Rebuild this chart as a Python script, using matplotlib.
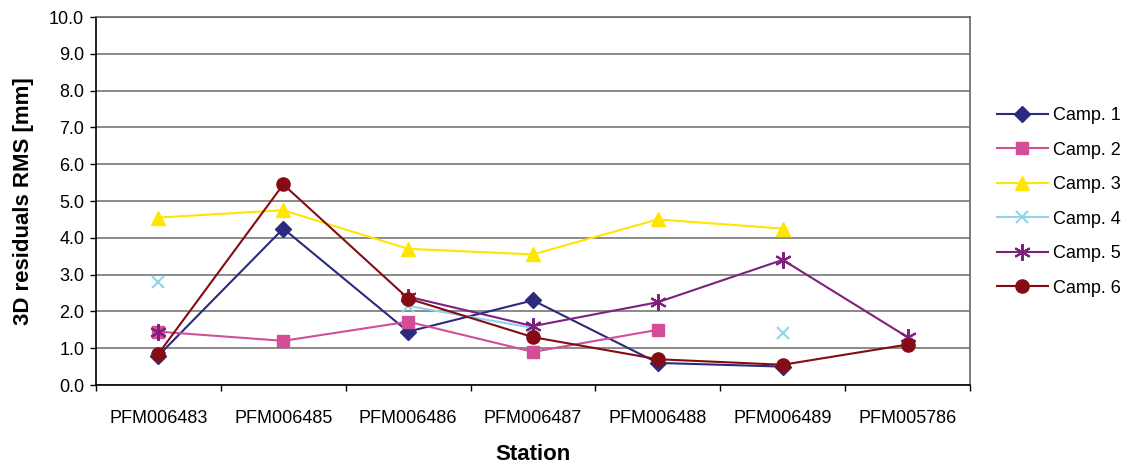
import numpy as np
import matplotlib
matplotlib.use('Agg')
import matplotlib.pyplot as plt

plt.rcParams['font.family'] = ['Liberation Sans', 'DejaVu Sans']

stations = ['PFM006483', 'PFM006485', 'PFM006486', 'PFM006487',
            'PFM006488', 'PFM006489', 'PFM005786']
nan = np.nan
camp1 = [0.80, 4.25, 1.45, 2.30, 0.60, 0.50, nan]
camp2 = [1.45, 1.20, 1.72, 0.90, 1.50, nan, nan]
camp3 = [4.55, 4.75, 3.70, 3.55, 4.50, 4.25, nan]
camp4 = [2.80, nan, 2.15, 1.55, nan, 1.40, nan]
camp5 = [1.45, nan, 2.40, 1.60, 2.25, 3.40, 1.30]
camp6 = [0.85, 5.45, 2.35, 1.30, 0.70, 0.55, 1.10]

series = [
    ('Camp. 1', camp1, '#2A2A7E', 'D', 8.5),
    ('Camp. 2', camp2, '#D24F98', 's', 8.5),
    ('Camp. 3', camp3, '#FFE600', '^', 10),
    ('Camp. 4', camp4, '#8FD4EA', 'x', 9),
    ('Camp. 5', camp5, '#7E207E', (6, 2, 0), 12),
    ('Camp. 6', camp6, '#850C14', 'o', 9.5),
]

fig = plt.figure(figsize=(11.23, 4.66), dpi=100)
ax = fig.add_axes([96 / 1123, 81 / 466, 874 / 1123, 368 / 466])

x = np.arange(len(stations))
for label, vals, color, marker, ms in series:
    mew = 1.5 if marker in ('x', (6, 2, 0)) else 1.0
    ax.plot(x, vals, color=color, lw=1.5, marker=marker, ms=ms,
            mec=color, mfc=color, mew=mew, label=label)

ax.set_xlim(-0.5, len(stations) - 0.5)
ax.set_ylim(0, 10)
ax.set_yticks(np.arange(0, 10.5, 1.0))
ax.set_yticklabels(['%.1f' % v for v in np.arange(0, 10.5, 1.0)])
ax.set_xticks(x)
ax.set_xticklabels(stations)
ax.set_xticks(np.arange(-0.5, len(stations), 1.0), minor=True)

ax.yaxis.grid(True, color='#777777', lw=1.2)
ax.set_axisbelow(True)

ax.tick_params(axis='x', which='major', length=0, pad=18, labelsize=13)
ax.tick_params(axis='x', which='minor', length=4.5, width=1, direction='out')
ax.tick_params(axis='y', length=4.5, width=1, pad=4, labelsize=13)

for side in ('left', 'bottom'):
    ax.spines[side].set_color('black')
    ax.spines[side].set_linewidth(1.2)
for side in ('top', 'right'):
    ax.spines[side].set_color('#666666')
    ax.spines[side].set_linewidth(1.2)

ax.set_xlabel('Station', fontsize=16, fontweight='bold', labelpad=12)
ax.set_ylabel('3D residuals RMS [mm]', fontsize=16, fontweight='bold', labelpad=11)

fig.legend(loc='center left', bbox_to_anchor=(997 / 1123, (466 - 202) / 466),
           frameon=False, fontsize=13, handlelength=2.8, handletextpad=0.3,
           labelspacing=0.97, borderpad=0, borderaxespad=0)

fig.savefig('out.png', dpi=100)
